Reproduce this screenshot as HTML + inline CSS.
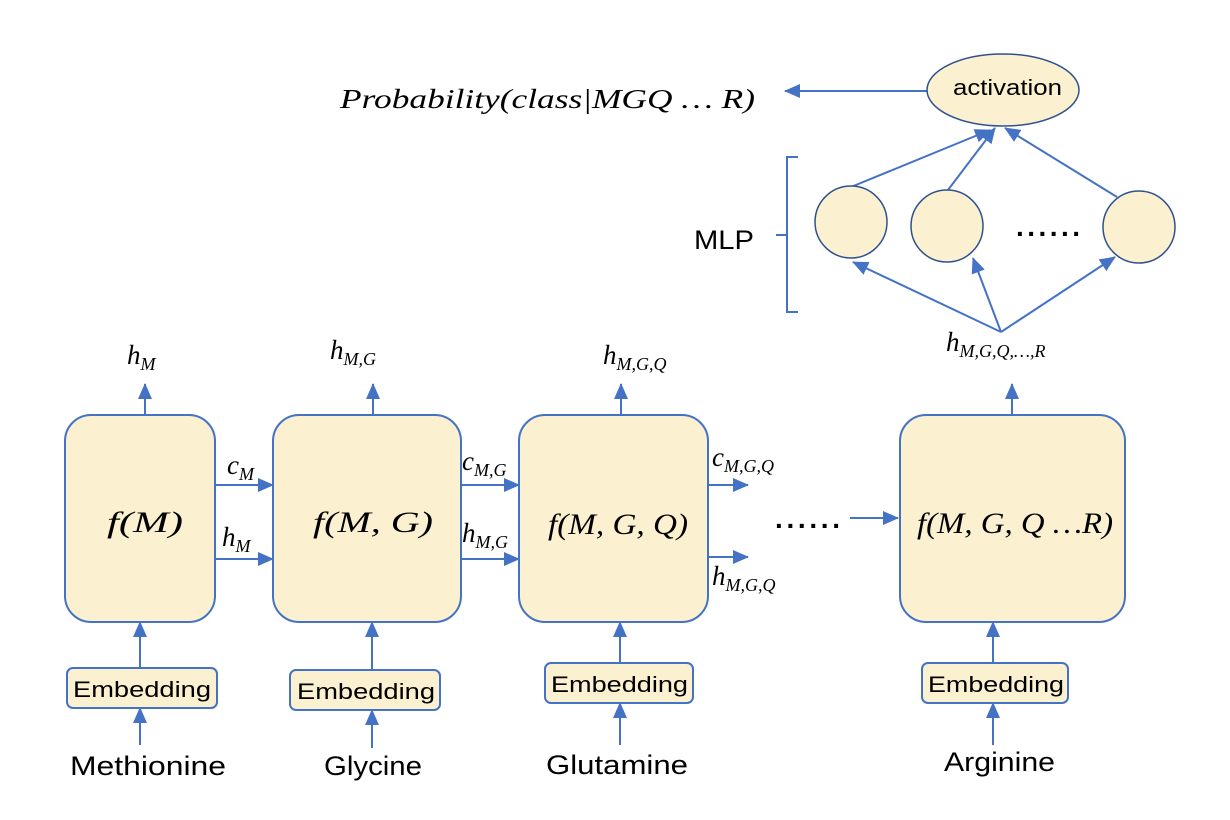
<!DOCTYPE html>
<html><head><meta charset="utf-8"><style>
body{margin:0;background:#fff}
svg{display:block}
.m{font-family:"Liberation Serif",serif;font-style:italic;fill:#000}
.s{font-family:"Liberation Sans",sans-serif;fill:#000}
</style></head><body>
<svg width="1230" height="820" viewBox="0 0 1230 820">
<defs>
<marker id="b" markerWidth="16" markerHeight="14" refX="15" refY="7" orient="auto" markerUnits="userSpaceOnUse"><path d="M0,0 L16,7 L0,14Z" fill="#4472C4"/></marker></defs>
<g stroke="#4472C4" stroke-width="2" fill="none">
<line x1="145" y1="415" x2="145" y2="384" marker-end="url(#b)"/>
<line x1="373" y1="415" x2="373" y2="384" marker-end="url(#b)"/>
<line x1="621" y1="415" x2="621" y2="384" marker-end="url(#b)"/>
<line x1="1012" y1="415" x2="1012" y2="384" marker-end="url(#b)"/>
<line x1="215" y1="485" x2="273" y2="485" marker-end="url(#b)"/>
<line x1="215" y1="559" x2="273" y2="559" marker-end="url(#b)"/>
<line x1="461" y1="485" x2="519" y2="485" marker-end="url(#b)"/>
<line x1="461" y1="559" x2="519" y2="559" marker-end="url(#b)"/>
<line x1="708" y1="485" x2="748" y2="485" marker-end="url(#b)"/>
<line x1="708" y1="557" x2="748" y2="557" marker-end="url(#b)"/>
<line x1="850" y1="518" x2="898" y2="518" marker-end="url(#b)"/>
<line x1="140" y1="668" x2="140" y2="622" marker-end="url(#b)"/>
<line x1="372" y1="670" x2="372" y2="622" marker-end="url(#b)"/>
<line x1="620" y1="663" x2="620" y2="622" marker-end="url(#b)"/>
<line x1="993" y1="663" x2="993" y2="622" marker-end="url(#b)"/>
<line x1="140" y1="745" x2="140" y2="708" marker-end="url(#b)"/>
<line x1="372" y1="748" x2="372" y2="710" marker-end="url(#b)"/>
<line x1="620" y1="745" x2="620" y2="703" marker-end="url(#b)"/>
<line x1="993" y1="745" x2="993" y2="703" marker-end="url(#b)"/>
<line x1="927" y1="91" x2="785" y2="91" marker-end="url(#b)"/>
<line x1="851" y1="187" x2="990" y2="130" marker-end="url(#b)"/>
<line x1="948" y1="190" x2="995" y2="128" marker-end="url(#b)"/>
<line x1="1117" y1="197" x2="1005" y2="128" marker-end="url(#b)"/>
<line x1="1001" y1="332" x2="853" y2="262" marker-end="url(#b)"/>
<line x1="1001" y1="332" x2="973" y2="258" marker-end="url(#b)"/>
<line x1="1001" y1="332" x2="1115" y2="257" marker-end="url(#b)"/>
<path d="M798,157 L787,157 L787,312 L798,312 M787,235 L776,235"/>
</g>
<g fill="#FBF0CF" stroke="#4472C4" stroke-width="2">
<rect x="65" y="415" width="150" height="207" rx="26"/>
<rect x="273" y="415" width="188" height="207" rx="26"/>
<rect x="519" y="415" width="189" height="207" rx="26"/>
<rect x="900" y="415" width="225" height="207" rx="26"/>
<rect x="67" y="668" width="150" height="40" rx="6"/>
<rect x="290" y="670" width="150" height="40" rx="6"/>
<rect x="545" y="663" width="148" height="40" rx="6"/>
<rect x="922" y="663" width="146" height="40" rx="6"/>
</g>
<g fill="#FBF0CF" stroke="#2F528F" stroke-width="1.5">
<ellipse cx="1003" cy="90" rx="76" ry="36"/>
<circle cx="851" cy="222" r="36"/>
<circle cx="947" cy="226" r="36"/>
<circle cx="1139" cy="227" r="36"/>
</g>
<g class="s" font-size="22">
<text x="953" y="95" textLength="109" lengthAdjust="spacingAndGlyphs">activation</text>
<text x="73" y="697" textLength="138" lengthAdjust="spacingAndGlyphs">Embedding</text>
<text x="297" y="699" textLength="138" lengthAdjust="spacingAndGlyphs">Embedding</text>
<text x="551" y="692" textLength="137" lengthAdjust="spacingAndGlyphs">Embedding</text>
<text x="928" y="692" textLength="136" lengthAdjust="spacingAndGlyphs">Embedding</text>
</g>
<g class="s" font-size="27">
<text x="70" y="775" textLength="156" lengthAdjust="spacingAndGlyphs">Methionine</text>
<text x="324" y="775" textLength="98" lengthAdjust="spacingAndGlyphs">Glycine</text>
<text x="546" y="774" textLength="142" lengthAdjust="spacingAndGlyphs">Glutamine</text>
<text x="944" y="771" textLength="111" lengthAdjust="spacingAndGlyphs">Arginine</text>
<text x="694" y="249" textLength="60" lengthAdjust="spacingAndGlyphs">MLP</text>
</g>
<text x="1016" y="236" class="s" font-size="28" font-weight="bold" textLength="64" lengthAdjust="spacing">......</text>
<text x="775" y="528" class="s" font-size="28" font-weight="bold" textLength="65" lengthAdjust="spacing">......</text>
<g class="m" font-size="30">
<text x="107" y="532" textLength="76" lengthAdjust="spacingAndGlyphs">f(M)</text>
<text x="313" y="532" textLength="120" lengthAdjust="spacingAndGlyphs">f(M, G)</text>
<text x="548" y="534" textLength="140" lengthAdjust="spacingAndGlyphs">f(M, G, Q)</text>
<text x="917" y="533" textLength="196" lengthAdjust="spacingAndGlyphs">f(M, G, Q …R)</text>
</g>
<g class="m" font-size="27">
<text x="340" y="108" textLength="415" lengthAdjust="spacingAndGlyphs">Probability(class|MGQ … R)</text>
<text x="127" y="364">h<tspan font-size="18" dy="6">M</tspan></text>
<text x="330" y="359">h<tspan font-size="18" dy="6">M,G</tspan></text>
<text x="603" y="364">h<tspan font-size="18" dy="6">M,G,Q</tspan></text>
<text x="946" y="351">h<tspan font-size="18" dy="6">M,G,Q,…,R</tspan></text>
<text x="227" y="474">c<tspan font-size="18" dy="6">M</tspan></text>
<text x="222" y="546">h<tspan font-size="18" dy="6">M</tspan></text>
<text x="462" y="470">c<tspan font-size="18" dy="6">M,G</tspan></text>
<text x="462" y="542">h<tspan font-size="18" dy="6">M,G</tspan></text>
<text x="712" y="466">c<tspan font-size="18" dy="6">M,G,Q</tspan></text>
<text x="712" y="585">h<tspan font-size="18" dy="6">M,G,Q</tspan></text>
</g>
</svg>
</body></html>
